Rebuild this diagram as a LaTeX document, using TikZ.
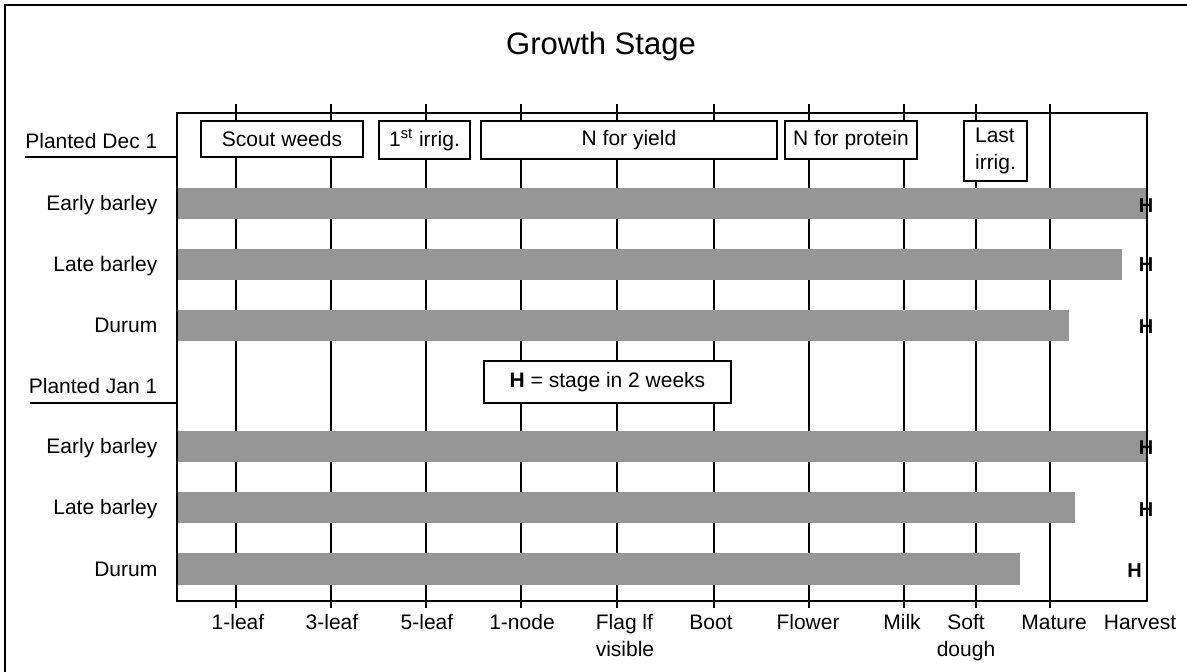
\documentclass[tikz,border=0pt]{standalone}
\usepackage{fontspec}
\setmainfont{Liberation Sans}
\usepackage{tikz}
\usetikzlibrary{positioning}
\definecolor{barfill}{RGB}{150,150,150}
\tikzset{every picture/.style={line width=0.7pt},
  every node/.style={font=\fontsize{10.5}{13.5}\selectfont},
  stagebox/.style={draw, fill=white, line width=0.85pt, inner sep=0pt},
  rowlabel/.style={anchor=base east, inner sep=0pt},
  ticklabel/.style={anchor=north, inner sep=0pt, align=center},
  hmark/.style={font=\fontsize{10}{11}\selectfont\bfseries, anchor=base, inner sep=0pt},
  bar/.style={fill=barfill}}

\begin{document}
\begin{tikzpicture}[x=0.5pt,y=-0.5pt]
\useasboundingbox (0,0) rectangle (1187,672);
\draw[line width=1pt] (5,672) -- (5,5) -- (1187,5);
\node (title) [anchor=base, font=\fontsize{15.5}{18}\selectfont] at (601,55) {Growth Stage};
% stage lines
\draw (236,104) -- (236,608);
\draw (331,104) -- (331,608);
\draw (426,104) -- (426,608);
\draw (521,104) -- (521,608);
\draw (617,104) -- (617,608);
\draw (714,104) -- (714,608);
\draw (809,104) -- (809,608);
\draw (904,104) -- (904,608);
\draw (976,104) -- (976,608);
\draw (1050,104) -- (1050,608);
% bars
\fill[bar] (176,188.5) rectangle (1146,219.5);
\fill[bar] (176,249.5) rectangle (1122,280.5);
\fill[bar] (176,310.5) rectangle (1069,341.5);
\fill[bar] (176,431.5) rectangle (1146,462.5);
\fill[bar] (176,492.5) rectangle (1075,523.5);
\fill[bar] (176,553.5) rectangle (1020,584.5);
% boxes
\node (scout) [stagebox, minimum width=81pt, minimum height=18pt] at (282,139) {Scout weeds};
\node (irrig1) [stagebox, minimum width=45.5pt, minimum height=19pt] at (424.5,140) {1\textsuperscript{st} irrig.};
\node (nyield) [stagebox, minimum width=148pt, minimum height=19pt] at (629,140) {N for yield};
\node (nprot) [stagebox, minimum width=66pt, minimum height=19pt] at (851,140) {N for protein};
\node (lastirr) [stagebox, minimum width=31.5pt, minimum height=30pt, align=left] at (995.5,151) {Last\\irrig.};
\node (hkey) [stagebox, minimum width=123.5pt, minimum height=21pt] at (607.5,382) {\textbf{H} = stage in 2 weeks};
\node (plot) [draw, line width=1pt, anchor=north west, inner sep=0pt, minimum width=485pt, minimum height=244pt] at (176,112) {};
% planting dates
\node (dec) [rowlabel] at (158,149) {Planted Dec 1};
\node (jan) [rowlabel] at (158,394) {Planted Jan 1};
\coordinate (decline) at (25,157);
\coordinate (janline) at (30,403);
\draw (decline) -- (decline -| plot.west);
\draw (janline) -- (janline -| plot.west);
\node (earlyd) [rowlabel] at (158,211) {Early barley};
\node (lated) [rowlabel] at (158,272) {Late barley};
\node (durumd) [rowlabel] at (158,333) {Durum};
\node (earlyj) [rowlabel] at (158,454) {Early barley};
\node (latej) [rowlabel] at (158,515) {Late barley};
\node (durumj) [rowlabel] at (158,576) {Durum};
% two weeks ahead
\node (h1) [hmark] at (1146,213) {H};
\node (h2) [hmark] at (1146,272) {H};
\node (h3) [hmark] at (1146,334) {H};
\node (h4) [hmark] at (1146,455) {H};
\node (h5) [hmark] at (1146,516.5) {H};
\node (h6) [hmark] at (1134.5,577) {H};
% stage names
\node (leaf1) [ticklabel] at (238,614) {1-leaf};
\node (leaf3) [ticklabel] at (332,614) {3-leaf};
\node (leaf5) [ticklabel] at (427,614) {5-leaf};
\node (node1) [ticklabel] at (522,614) {1-node};
\node (flag) [ticklabel, align=left] at (625,614) {Flag lf\\visible};
\node (boot) [ticklabel] at (711,614) {Boot};
\node (flower) [ticklabel] at (808,614) {Flower};
\node (milk) [ticklabel] at (902,614) {Milk};
\node (soft) [ticklabel] at (966,614) {Soft\\dough};
\node (mature) [ticklabel] at (1054,614) {Mature};
\node (harvest) [ticklabel] at (1140,614) {Harvest};
\end{tikzpicture}
\end{document}
